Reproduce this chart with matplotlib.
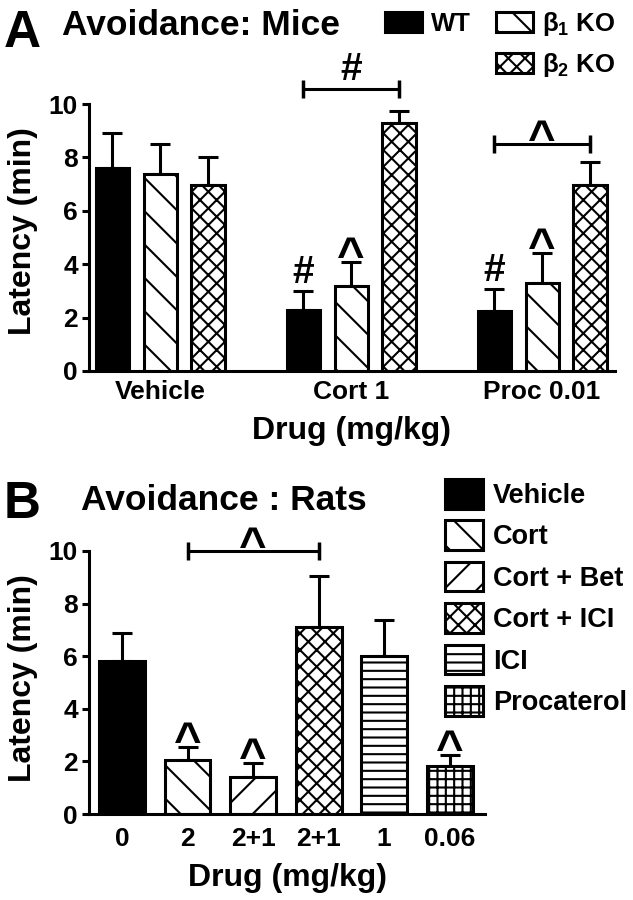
import numpy as np
import matplotlib
matplotlib.use('Agg')
import matplotlib.pyplot as plt
from matplotlib.patches import Rectangle

plt.rcParams['font.family'] = ['Liberation Sans', 'DejaVu Sans']
plt.rcParams['font.weight'] = 'bold'
plt.rcParams['axes.labelweight'] = 'bold'
plt.rcParams['mathtext.fontset'] = 'custom'
plt.rcParams['mathtext.rm'] = 'Liberation Sans:bold'
plt.rcParams['mathtext.default'] = 'rm'
plt.rcParams['hatch.linewidth'] = 1.5

# Panel A: mice, latency (min), mean and SEM
mice_groups = ['Vehicle', 'Cort 1', 'Proc 0.01']
mice_series = ['WT', r'β$_{1}$ KO', r'β$_{2}$ KO']
wt_mean = [7.6, 2.3, 2.23]
wt_sem = [1.3, 0.7, 0.84]
b1_mean = [7.38, 3.18, 3.3]
b1_sem = [1.12, 0.91, 1.12]
b2_mean = [6.97, 9.29, 6.97]
b2_sem = [1.05, 0.45, 0.86]

# Panel B: rats
rat_doses = ['0', '2', '2+1', '2+1', '1', '0.06']
rat_treatments = ['Vehicle', 'Cort', 'Cort + Bet', 'Cort + ICI', 'ICI', 'Procaterol']
rat_mean = [5.82, 2.05, 1.4, 7.11, 6.0, 1.81]
rat_sem = [1.06, 0.5, 0.54, 1.94, 1.38, 0.44]
rat_marks = ['', '^', '^', '', '', '^']

W, H = 633, 900
fig = plt.figure(figsize=(W / 100, H / 100), dpi=100)
ax_a = fig.add_axes([89 / W, 1 - 371 / H, (615 - 89) / W, (371 - 104) / H])
ax_b = fig.add_axes([89 / W, 1 - 814 / H, (485 - 89) / W, (814 - 551) / H])

edge = dict(edgecolor='black', linewidth=2.2)
err_kw = dict(fmt='none', ecolor='black', elinewidth=2.2, capsize=7, capthick=2.2)

HASH_SIZE = 28
CARET_SIZE = 34


def style_axes(ax, xpad):
    for s in ['top', 'right']:
        ax.spines[s].set_visible(False)
    for s in ['left', 'bottom']:
        ax.spines[s].set_linewidth(2.2)
    ax.set_ylim(0, 10)
    ax.set_yticks([0, 2, 4, 6, 8, 10])
    ax.tick_params(axis='y', length=5, width=2.2, pad=3, labelsize=19)
    ax.tick_params(axis='x', length=0, pad=xpad, labelsize=19)


def mark(ax, x, y, sym, off):
    size = HASH_SIZE if sym == '#' else CARET_SIZE
    ax.annotate(sym, xy=(x, y), xytext=(0, off), textcoords='offset points',
                ha='center', va='baseline', fontsize=size, fontweight='bold',
                annotation_clip=False)


def bracket(ax, x1, x2, y, sym, off):
    ax.plot([x1, x2], [y, y], color='black', lw=2.2, marker='|', markersize=13,
            markeredgewidth=2.5, clip_on=False)
    mark(ax, (x1 + x2) / 2, y, sym, off)


# ---- Panel A
xg = np.arange(len(mice_groups))
off = 0.251
bw = 0.173
means = [wt_mean, b1_mean, b2_mean]
sems = [wt_sem, b1_sem, b2_sem]
faces = ['black', 'white', 'white']
hatches = [None, '\\', 'xx']
bars_a = []
for j in range(3):
    xs = xg + (j - 1) * off
    b = ax_a.bar(xs, means[j], width=bw, color=faces[j], hatch=hatches[j], **edge, zorder=2)
    bars_a.append(b)
    ax_a.errorbar(xs, means[j], yerr=[np.zeros(3), sems[j]], **err_kw, zorder=1)
style_axes(ax_a, 6.5)
ax_a.set_xlim(-0.372, 2.382)
ax_a.set_xticks(xg)
ax_a.set_xticklabels(mice_groups)

mark(ax_a, xg[1] - off, wt_mean[1] + wt_sem[1], '#', 6)
mark(ax_a, xg[1], b1_mean[1] + b1_sem[1], '^', -6)
mark(ax_a, xg[2] - off, wt_mean[2] + wt_sem[2], '#', 6)
mark(ax_a, xg[2], b1_mean[2] + b1_sem[2], '^', -6)
bracket(ax_a, xg[1] - off, xg[1] + off, 10.55, '#', 7)
bracket(ax_a, xg[2] - off, xg[2] + off, 8.5, '^', -6.5)

blank = Rectangle((0, 0), 1, 1, visible=False)
ax_a.legend([bars_a[0], blank, bars_a[1], bars_a[2]],
            [mice_series[0], '', mice_series[1], mice_series[2]],
            ncol=2, loc='upper left', bbox_to_anchor=(385 / W, 1 - 10 / H),
            bbox_transform=fig.transFigure, frameon=False, borderpad=0,
            borderaxespad=0, fontsize=18.5, handlelength=1.44, handleheight=0.86,
            handletextpad=0.34, columnspacing=1.0, labelspacing=0.5)

# ---- Panel B
xr = np.arange(len(rat_doses))
rat_faces = ['black', 'white', 'white', 'white', 'white', 'white']
rat_hatches = [None, '\\', '/', 'xx', '--', '++']
bars_b = []
for i in range(len(xr)):
    b = ax_b.bar(xr[i], rat_mean[i], width=0.70, color=rat_faces[i],
                 hatch=rat_hatches[i], label=rat_treatments[i], **edge, zorder=2)
    bars_b.append(b)
ax_b.errorbar(xr, rat_mean, yerr=[np.zeros(len(xr)), rat_sem], **err_kw, zorder=1)
style_axes(ax_b, 9.5)
ax_b.set_xlim(-0.504, 5.54)
ax_b.set_xticks(xr)
ax_b.set_xticklabels(rat_doses)
for i, m in enumerate(rat_marks):
    if m:
        mark(ax_b, xr[i], rat_mean[i] + rat_sem[i], m, -6)
bracket(ax_b, xr[1], xr[3], 10.0, '^', -6.5)

ax_b.legend(loc='upper left', bbox_to_anchor=(445 / W, 1 - 479 / H),
            bbox_transform=fig.transFigure, frameon=False, borderpad=0,
            borderaxespad=0, fontsize=19.5, handlelength=1.42, handleheight=1.3,
            handletextpad=0.36, labelspacing=0.43)

# ---- titles and axis labels
fig.text(4 / W, 1 - 47 / H, 'A', fontsize=37, fontweight='bold', va='baseline')
fig.text(62 / W, 1 - 35 / H, 'Avoidance: Mice', fontsize=25.5, fontweight='bold', va='baseline')
fig.text(4 / W, 1 - 518 / H, 'B', fontsize=37, fontweight='bold', va='baseline')
fig.text(81 / W, 1 - 510 / H, 'Avoidance : Rats', fontsize=25.5, fontweight='bold', va='baseline')

for ax, yc, xb in [(ax_a, 231, 439), (ax_b, 678, 886)]:
    fig.text(31 / W, 1 - yc / H, 'Latency (min)', rotation=90, rotation_mode='anchor',
             ha='center', va='baseline', fontsize=23, fontweight='bold')
    pos = ax.get_position()
    fig.text((pos.x0 + pos.x1) / 2, 1 - xb / H, 'Drug (mg/kg)', ha='center',
             va='baseline', fontsize=23, fontweight='bold')

fig.savefig('out.png', dpi=100)
